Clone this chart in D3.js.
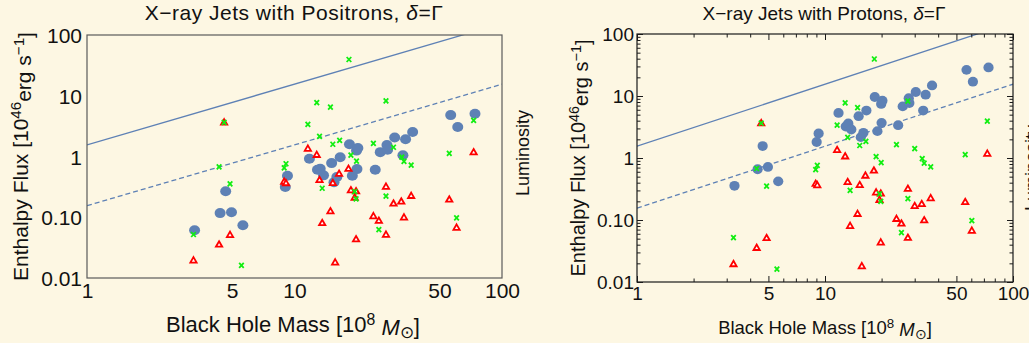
<!DOCTYPE html>
<html>
<head>
<meta charset="utf-8">
<script src="https://cdn.jsdelivr.net/npm/d3@7"></script>
<style>
  body { margin: 0; background: #fdf7e3; }
  svg { display: block; font-family: "Liberation Sans", Arial, sans-serif; }
</style>
</head>
<body>
<svg id="chart" width="1029" height="343"></svg>
<script>
// black hole masses (10^8 Msun) of the blue sources
const blueMass = [3.3, 4.38, 4.66, 4.97, 5.64, 9.03, 9.25, 11.8, 12.9, 13.3, 13.8, 15.1, 15.5, 16.0, 16.6,
  18.4, 19.0, 19.9, 20.2, 20.0, 24.5, 25.9, 27.9, 28.1, 30.4, 33.3, 34.3, 37.1, 56.6, 61.2, 74.1];
// enthalpy flux, positron jets (left) and proton jets (right)
const positronFlux = [0.061, 0.117, 0.268, 0.121, 0.074, 0.315, 0.483, 0.916, 0.605, 0.63, 0.489, 0.778, 0.376, 0.46, 0.975,
  1.59, 0.483, 1.25, 1.38, 0.62, 0.605, 1.18, 1.55, 1.29, 2.05, 1.05, 1.92, 2.53, 4.80, 3.05, 5.05];
const protonFlux = [0.356, 0.658, 1.56, 0.718, 0.42, 1.81, 2.49, 5.33, 3.22, 3.6, 2.88, 4.72, 2.17, 2.55, 5.82,
  9.64, 2.71, 7.45, 8.4, 3.69, 3.38, 6.8, 9.2, 7.7, 11.6, 5.82, 10.5, 14.8, 26.4, 17.0, 28.9];

// green crosses
const greenMass = [3.26, 4.33, 4.58, 4.89, 5.55, 8.92, 9.1, 11.6, 12.8, 13.2, 13.6, 14.9, 15.3, 16.5, 18.3,
  18.7, 19.5, 19.8, 19.9, 24.0, 25.5, 27.6, 27.6, 30.0, 32.9, 33.7, 36.5, 55.7, 60.4, 73.0];
const greenFlux = [0.052, 0.677, 3.64, 0.353, 0.0161, 0.65, 0.76, 3.38, 7.72, 2.15, 0.30, 6.49, 1.59, 1.85, 39.5,
  1.05, 0.264, 0.200, 0.84, 1.65, 0.0625, 8.24, 0.222, 1.42, 0.975, 0.83, 0.72, 1.13, 0.098, 3.93];

// red triangles
const redMass = [3.26, 4.33, 4.58, 4.89, 8.92, 9.1, 11.6, 12.8, 13.2, 13.6, 14.9, 15.3, 15.7, 16.4, 18.2,
  18.7, 19.5, 19.8, 19.8, 24.0, 25.5, 27.6, 27.6, 30.0, 32.7, 33.7, 36.5, 55.7, 60.4, 73.0];
const redFlux = [0.0192, 0.0351, 3.6, 0.0505, 0.38, 0.36, 1.33, 1.05, 0.405, 0.0793, 0.124, 0.362, 0.0178, 0.514, 0.62,
  0.275, 0.208, 0.264, 0.0429, 0.103, 0.0865, 0.315, 0.051, 0.166, 0.179, 0.098, 0.222, 0.193, 0.0665, 1.16];

// reference lines F = k * M
const lineMass = [1, 100];
const lineNorm = [1.55, 0.155];

const xTickVals = [1, 5, 10, 50, 100];
const yTickVals = [0.01, 0.1, 1, 10, 100];
const yTickLabels = ["0.01", "0.10", "1", "10", "100"];

const blue = "#5e81b5";
const svg = d3.select("#chart");
svg.append("rect").attr("width", 1029).attr("height", 343).attr("fill", "#fdf7e3");

function minorTicks(lo, hi) {
  const out = [];
  for (let d = lo; d < hi; d *= 10)
    for (let k = 2; k <= 9; k++) out.push(d * k);
  return out;
}

function drawPanel(cfg) {
  const x = d3.scaleLog().domain([1, 100]).range([cfg.left, cfg.right]);
  const y = d3.scaleLog().domain([0.01, 100]).range([cfg.bottom, cfg.top]);

  svg.append("clipPath").attr("id", "clip" + cfg.id)
    .append("rect")
    .attr("x", cfg.left).attr("y", cfg.top)
    .attr("width", cfg.right - cfg.left).attr("height", cfg.bottom - cfg.top);

  const plot = svg.append("g").attr("clip-path", `url(#clip${cfg.id})`);

  const line = d3.line().x(d => x(d[0])).y(d => y(d[1]));
  lineNorm.forEach((k, i) => {
    plot.append("path")
      .attr("d", line(lineMass.map(m => [m, k * m])))
      .attr("fill", "none")
      .attr("stroke", blue)
      .attr("stroke-width", 1.3)
      .attr("stroke-dasharray", i ? "5,3" : null);
  });

  plot.selectAll(".dot")
    .data(d3.zip(blueMass, cfg.flux))
    .join("ellipse")
    .attr("cx", d => x(d[0])).attr("cy", d => y(d[1]))
    .attr("rx", cfg.rx).attr("ry", cfg.ry)
    .attr("fill", blue);

  plot.selectAll(".tri")
    .data(d3.zip(redMass, redFlux))
    .join("path")
    .attr("d", d3.symbol(d3.symbolTriangle, 17))
    .attr("transform", d => `translate(${x(d[0])},${y(d[1])})`)
    .attr("fill", "#fff")
    .attr("stroke", "#f00")
    .attr("stroke-width", 1.8);

  plot.selectAll(".cross")
    .data(d3.zip(greenMass, greenFlux))
    .join("path")
    .attr("d", "M-2.3,-2.5L2.3,2.5M2.3,-2.5L-2.3,2.5")
    .attr("transform", d => `translate(${x(d[0])},${y(d[1])})`)
    .attr("stroke", "#11ee11")
    .attr("stroke-width", 1.8);

  // frame
  svg.append("rect")
    .attr("x", cfg.left).attr("y", cfg.top)
    .attr("width", cfg.right - cfg.left).attr("height", cfg.bottom - cfg.top)
    .attr("fill", "none").attr("stroke", cfg.frame).attr("stroke-width", 1.2);

  const fmt = d3.format("");
  const bottomAxis = svg.append("g")
    .attr("transform", `translate(0,${cfg.bottom})`)
    .call(d3.axisBottom(x).tickValues(xTickVals).tickFormat(fmt)
      .tickSizeInner(cfg.ticks ? -6 : 0).tickSizeOuter(0).tickPadding(cfg.xPad));
  const leftAxis = svg.append("g")
    .attr("transform", `translate(${cfg.left},0)`)
    .call(d3.axisLeft(y).tickValues(yTickVals).tickFormat((d, i) => yTickLabels[i])
      .tickSizeInner(cfg.ticks ? -6 : 0).tickSizeOuter(0).tickPadding(cfg.yPad));

  [bottomAxis, leftAxis].forEach(a => {
    a.select(".domain").remove();
    a.attr("font-family", null).attr("font-size", null);
    a.selectAll("text").attr("fill", "#111").attr("font-size", cfg.tickFont);
    a.selectAll("line").attr("stroke", cfg.frame);
  });
  bottomAxis.selectAll("text").attr("dy", "0.71em");
  leftAxis.selectAll("text").attr("dy", "0.36em");

  if (cfg.ticks) {
    const xMinor = minorTicks(1, 100).filter(v => v !== 5 && v !== 50);
    const yMinor = minorTicks(0.01, 100);
    const extra = [
      [d3.axisBottom(x).tickValues(xMinor).tickSizeInner(-3.5), `translate(0,${cfg.bottom})`],
      [d3.axisTop(x).tickValues(xTickVals).tickSizeInner(-6), `translate(0,${cfg.top})`],
      [d3.axisTop(x).tickValues(xMinor).tickSizeInner(-3.5), `translate(0,${cfg.top})`],
      [d3.axisLeft(y).tickValues(yMinor).tickSizeInner(-3.5), `translate(${cfg.left},0)`],
      [d3.axisRight(y).tickValues(yTickVals).tickSizeInner(-6), `translate(${cfg.right},0)`],
      [d3.axisRight(y).tickValues(yMinor).tickSizeInner(-3.5), `translate(${cfg.right},0)`]
    ];
    extra.forEach(([ax, tr]) => {
      const a = svg.append("g").attr("transform", tr).call(ax.tickFormat("").tickSizeOuter(0));
      a.select(".domain").remove();
      a.selectAll("line").attr("stroke", cfg.frame);
    });
  }

  // title
  const t = svg.append("text")
    .attr("x", cfg.titleX).attr("y", 20)
    .attr("text-anchor", "middle").attr("font-size", cfg.titleFont)
    .attr("letter-spacing", cfg.titleSpacing).attr("fill", "#111");
  t.append("tspan").text(cfg.title + ", ");
  t.append("tspan").attr("font-style", "italic").text("δ");
  t.append("tspan").text("=Γ");

  // x label
  const xl = svg.append("text")
    .attr("x", cfg.xLabelX).attr("y", cfg.xLabelY)
    .attr("text-anchor", "middle").attr("font-size", cfg.xLabelFont).attr("fill", "#111");
  xl.append("tspan").text("Black Hole Mass [10");
  xl.append("tspan").attr("dy", "-0.45em").attr("font-size", "0.72em").text("8");
  xl.append("tspan").attr("dy", "0.45em").text(" ");
  xl.append("tspan").attr("font-style", "italic").text("M");
  xl.append("tspan").attr("dy", "0.2em").attr("font-size", "0.75em").text("⊙");
  xl.append("tspan").attr("dy", "-0.2em").text("]");

  // y label
  const yl = svg.append("text")
    .attr("transform", `translate(${cfg.yLabelX},${(cfg.top + cfg.bottom) / 2}) rotate(-90)`)
    .attr("text-anchor", "middle").attr("font-size", cfg.yLabelFont).attr("fill", "#111");
  yl.append("tspan").text("Enthalpy Flux [10");
  yl.append("tspan").attr("dy", "-0.45em").attr("font-size", "0.72em").text("46");
  yl.append("tspan").attr("dy", "0.45em").text("erg s");
  yl.append("tspan").attr("dy", "-0.45em").attr("font-size", "0.72em").text("−1");
  yl.append("tspan").attr("dy", "0.45em").text("]");
}

drawPanel({
  id: "L", title: "X\u2212ray Jets with Positrons", flux: positronFlux,
  left: 87, right: 502, top: 35, bottom: 278,
  frame: "#5a5a5a", ticks: false, rx: 5.5, ry: 5,
  tickFont: 21, titleFont: 21, titleSpacing: 0.5, xLabelFont: 22, yLabelFont: 21, xPad: 5, yPad: 5,
  titleX: 294, xLabelX: 293, xLabelY: 332, yLabelX: 28
});

drawPanel({
  id: "R", title: "X\u2212ray Jets with Protons", flux: protonFlux,
  left: 637, right: 1013, top: 34, bottom: 282,
  frame: "#1a1a1a", ticks: true, rx: 5.1, ry: 4.9,
  tickFont: 19, titleFont: 19, titleSpacing: 0, xLabelFont: 18.5, yLabelFont: 20, xPad: 5, yPad: 3,
  titleX: 824, xLabelX: 825, xLabelY: 334, yLabelX: 585
});

// "Luminosity" labels from neighbouring panels (the right one is cut by the page edge, as in the source)
[[529, 153], [1038, 168]].forEach(([lx, ly]) => {
  svg.append("text")
    .attr("transform", `translate(${lx},${ly}) rotate(-90)`)
    .attr("text-anchor", "middle").attr("font-size", 18).attr("fill", "#111")
    .text("Luminosity");
});
</script>
</body>
</html>
